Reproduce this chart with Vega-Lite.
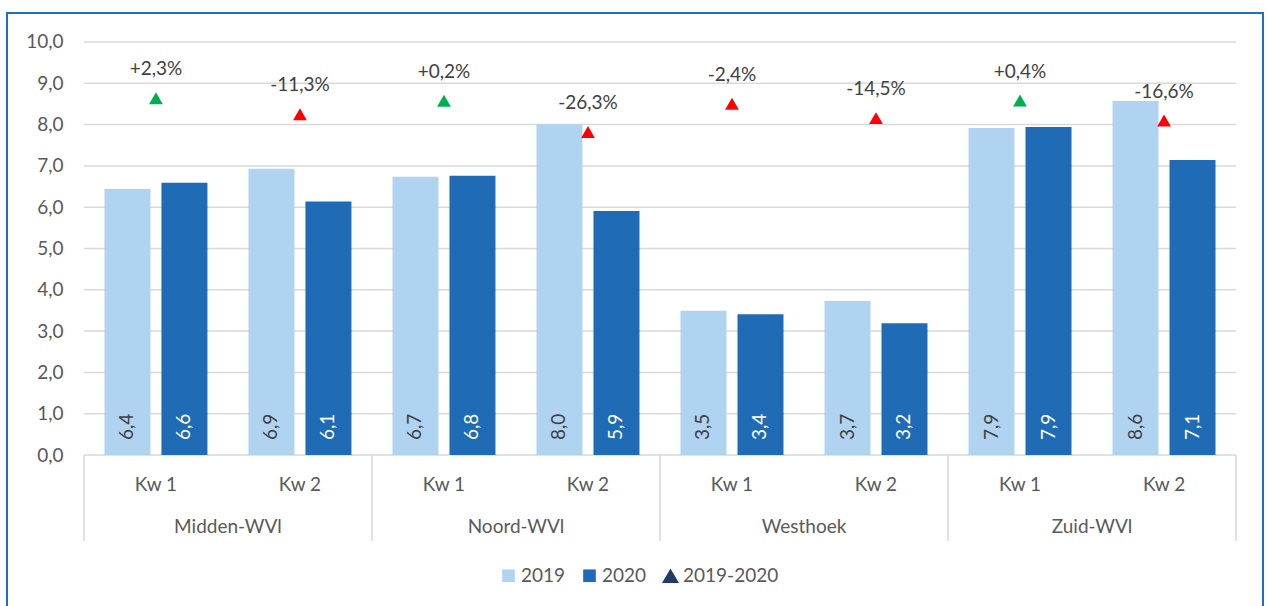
{
  "$schema": "https://vega.github.io/schema/vega-lite/v6.json",
  "autosize": {"type": "none"},
  "width": 1256,
  "height": 603,
  "padding": {"left": 7, "top": 13, "right": 5, "bottom": -10},
  "background": "white",
  "config": {
    "font": "Lato",
    "view": {"stroke": "#1F70C1", "strokeWidth": 2},
    "locale": {"number": {"decimal": ",", "thousands": ".", "grouping": [3], "currency": ["€", ""], "minus": "-"}},
    "axis": {"labelFont": "Lato", "labelFontSize": 19, "labelColor": "#595959"},
    "legend": {"labelFont": "Lato", "labelFontSize": 19, "labelColor": "#595959"}
  },
  "datasets": {
    "bars": [
      {"cat": "Midden-WVl|Kw 1", "series": "2019", "value": 6.44},
      {"cat": "Midden-WVl|Kw 1", "series": "2020", "value": 6.59},
      {"cat": "Midden-WVl|Kw 2", "series": "2019", "value": 6.93},
      {"cat": "Midden-WVl|Kw 2", "series": "2020", "value": 6.14},
      {"cat": "Noord-WVl|Kw 1", "series": "2019", "value": 6.74},
      {"cat": "Noord-WVl|Kw 1", "series": "2020", "value": 6.76},
      {"cat": "Noord-WVl|Kw 2", "series": "2019", "value": 8.01},
      {"cat": "Noord-WVl|Kw 2", "series": "2020", "value": 5.91},
      {"cat": "Westhoek|Kw 1", "series": "2019", "value": 3.49},
      {"cat": "Westhoek|Kw 1", "series": "2020", "value": 3.41},
      {"cat": "Westhoek|Kw 2", "series": "2019", "value": 3.73},
      {"cat": "Westhoek|Kw 2", "series": "2020", "value": 3.19},
      {"cat": "Zuid-WVl|Kw 1", "series": "2019", "value": 7.92},
      {"cat": "Zuid-WVl|Kw 1", "series": "2020", "value": 7.94},
      {"cat": "Zuid-WVl|Kw 2", "series": "2019", "value": 8.57},
      {"cat": "Zuid-WVl|Kw 2", "series": "2020", "value": 7.14}
    ],
    "changes": [
      {"cat": "Midden-WVl|Kw 1", "pct": 0.023},
      {"cat": "Midden-WVl|Kw 2", "pct": -0.113},
      {"cat": "Noord-WVl|Kw 1", "pct": 0.002},
      {"cat": "Noord-WVl|Kw 2", "pct": -0.263},
      {"cat": "Westhoek|Kw 1", "pct": -0.024},
      {"cat": "Westhoek|Kw 2", "pct": -0.145},
      {"cat": "Zuid-WVl|Kw 1", "pct": 0.004},
      {"cat": "Zuid-WVl|Kw 2", "pct": -0.166}
    ],
    "regions": [
      {"first": "Midden-WVl|Kw 1", "second": "Midden-WVl|Kw 2", "region": "Midden-WVl"},
      {"first": "Noord-WVl|Kw 1", "second": "Noord-WVl|Kw 2", "region": "Noord-WVl"},
      {"first": "Westhoek|Kw 1", "second": "Westhoek|Kw 2", "region": "Westhoek"},
      {"first": "Zuid-WVl|Kw 1", "second": "Zuid-WVl|Kw 2", "region": "Zuid-WVl"}
    ],
    "grid": [{"v": 0}, {"v": 1}, {"v": 2}, {"v": 3}, {"v": 4}, {"v": 5}, {"v": 6}, {"v": 7}, {"v": 8}, {"v": 9}, {"v": 10}]
  },
  "resolve": {"scale": {"y": "independent"}},
  "layer": [
    {
      "layer": [
        {
          "data": {"name": "grid"},
          "mark": {"type": "rule", "color": "#D9D9D9", "strokeWidth": 1.5},
          "encoding": {
            "y": {"field": "v", "type": "quantitative"},
            "x": {"datum": "Midden-WVl|Kw 1", "bandPosition": 0, "type": "nominal"},
            "x2": {"datum": "Zuid-WVl|Kw 2", "bandPosition": 1}
          }
        },
        {
          "data": {"name": "bars"},
          "mark": {"type": "bar"},
          "encoding": {
            "x": {
              "field": "cat", "type": "nominal", "sort": null,
              "scale": {"paddingInner": 0, "paddingOuter": 0.3608, "align": 0.7404},
              "axis": {
                "orient": "bottom", "offset": -161, "title": null, "domain": false, "ticks": false, "tickSize": 0,
                "labelAngle": 0, "labelAlign": "center", "labelBaseline": "top", "labelPadding": 20,
                "labelExpr": "split(datum.value, '|')[1]"
              }
            },
            "xOffset": {"field": "series", "type": "nominal", "scale": {"paddingInner": 0.193, "paddingOuter": 0.36}},
            "y": {
              "field": "value", "type": "quantitative",
              "scale": {"domain": [-3.898, 10.702], "nice": false, "zero": false},
              "axis": {
                "values": [0, 1, 2, 3, 4, 5, 6, 7, 8, 9, 10], "format": ".1f", "title": null, "grid": false,
                "domain": false, "ticks": false, "tickSize": 0, "offset": -77, "labelPadding": 21
              }
            },
            "color": {
              "field": "series", "type": "nominal",
              "scale": {"domain": ["2019", "2020", "2019-2020"], "range": ["#B0D3F2", "#1F6BB5", "#1F3B68"]},
              "legend": {
                "title": null, "orient": "none", "direction": "horizontal", "legendX": 492, "legendY": 553,
                "symbolType": {"expr": "datum.value === '2019-2020' ? 'triangle-up' : 'square'"},
                "symbolSize": {"expr": "datum.value === '2019-2020' ? 290 : 160"},
                "symbolStrokeWidth": 0, "columnPadding": 14, "labelOffset": 3,
                "padding": 0
              }
            }
          }
        },
        {
          "data": {"name": "bars"},
          "mark": {"type": "text", "angle": 270, "align": "left", "baseline": "middle", "dx": 15, "fontSize": 19, "font": "Lato"},
          "encoding": {
            "x": {"field": "cat", "type": "nominal", "sort": null},
            "xOffset": {"field": "series", "type": "nominal"},
            "y": {"datum": 0, "type": "quantitative"},
            "text": {"field": "value", "type": "quantitative", "format": ".1f"},
            "color": {"condition": {"test": "datum.series === '2020'", "value": "#FFFFFF"}, "value": "#404040"}
          }
        },
        {
          "data": {"name": "regions"},
          "mark": {"type": "text", "baseline": "middle", "align": "center", "dy": 72, "fontSize": 19, "font": "Lato", "color": "#595959"},
          "encoding": {
            "x": {"field": "second", "type": "nominal", "bandPosition": 0},
            "y": {"datum": 0, "type": "quantitative"},
            "text": {"field": "region"}
          }
        },
        {
          "data": {"name": "regions"},
          "mark": {"type": "rule", "color": "#D9D9D9", "strokeWidth": 1.5},
          "encoding": {
            "x": {"field": "first", "type": "nominal", "bandPosition": 0},
            "y": {"datum": 0, "type": "quantitative"},
            "y2": {"datum": -2.08}
          }
        },
        {
          "data": {"name": "regions"},
          "transform": [{"filter": "datum.region === 'Zuid-WVl'"}],
          "mark": {"type": "rule", "color": "#D9D9D9", "strokeWidth": 1.5},
          "encoding": {
            "x": {"field": "second", "type": "nominal", "bandPosition": 1},
            "y": {"datum": 0, "type": "quantitative"},
            "y2": {"datum": -2.08}
          }
        }
      ]
    },
    {
      "data": {"name": "changes"},
      "layer": [
        {
          "mark": {"type": "point", "shape": "triangle-up", "filled": true, "size": 190, "opacity": 1},
          "encoding": {
            "x": {"field": "cat", "type": "nominal", "sort": null},
            "y": {"field": "pct", "type": "quantitative", "scale": {"domain": [-4.3643, 0.7457], "nice": false, "zero": false}, "axis": null},
            "color": {"condition": {"test": "datum.pct >= 0", "value": "#00B050"}, "value": "#FF0000"}
          }
        },
        {
          "mark": {"type": "text", "baseline": "middle", "align": "center", "dy": -29, "fontSize": 19, "font": "Lato", "color": "#404040"},
          "encoding": {
            "x": {"field": "cat", "type": "nominal", "sort": null},
            "y": {"field": "pct", "type": "quantitative"},
            "text": {"field": "pct", "type": "quantitative", "format": "+.1%"}
          }
        }
      ]
    }
  ]
}
